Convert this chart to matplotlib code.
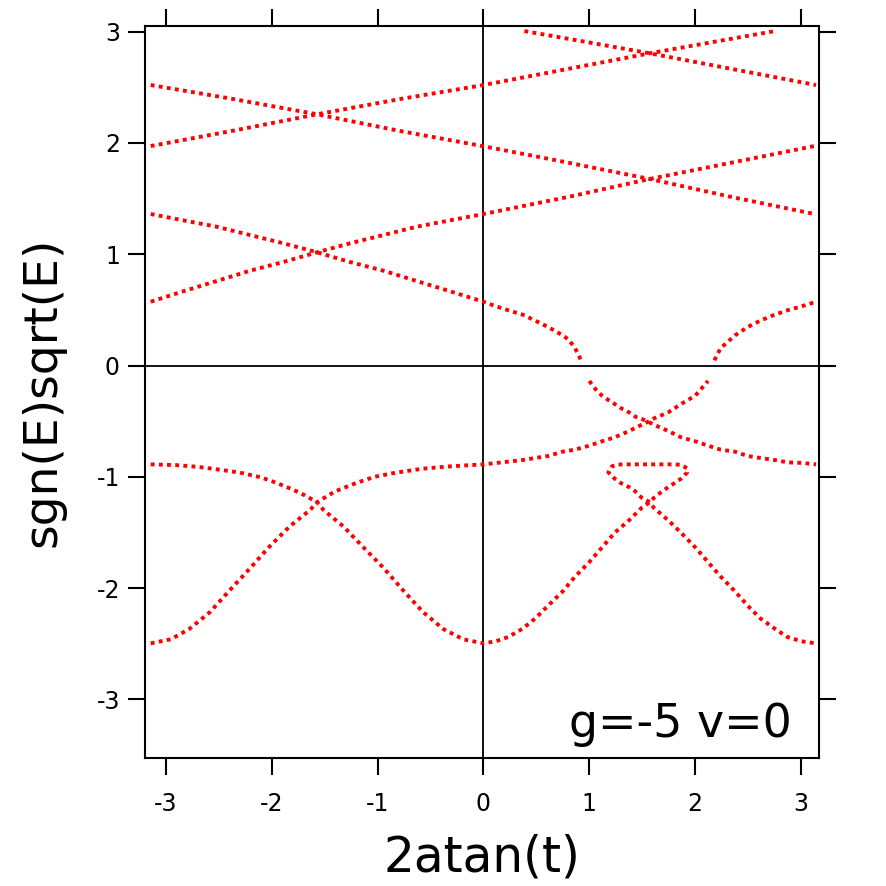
import matplotlib
matplotlib.use("Agg")
import matplotlib.pyplot as plt

# ---------------- data ----------------
# upper band 1: 2.52 -> 1.97 -> 1.36
s1_x = [-3.142, -2.362, -1.571, -0.788, 0.0, 0.755, 1.571, 2.329, 3.142]
s1_y = [2.520, 2.394, 2.257, 2.107, 1.970, 1.831, 1.676, 1.517, 1.358]
# upper band 2: 1.97 -> 2.52 -> 3.0
s2_x = [-3.142, -2.362, -1.571, -0.788, 0.0, 0.755, 1.571, 2.171, 2.754]
s2_y = [1.972, 2.110, 2.257, 2.394, 2.520, 2.657, 2.805, 2.907, 3.005]
# upper band 3 (enters from top)
s3_x = [0.387, 0.970, 1.571, 2.387, 3.142]
s3_y = [3.005, 2.907, 2.805, 2.657, 2.520]
# band 4: 1.36 -> 0.57 -> towards zero
s4_x = [-3.142, -2.834, -2.519, -2.204, -1.889, -1.571, -1.260, -0.945, -0.630,
        -0.315, 0.0, 0.119, 0.235, 0.371, 0.490, 0.610, 0.749, 0.805, 0.865, 0.922]
s4_y = [1.361, 1.304, 1.247, 1.172, 1.098, 1.017, 0.930, 0.852, 0.759,
        0.667, 0.573, 0.532, 0.496, 0.457, 0.403, 0.346, 0.271, 0.232, 0.157, 0.047]
# band 4 continued below zero
s4b_x = [1.000, 1.060, 1.120, 1.180, 1.240, 1.297, 1.375, 1.435, 1.495, 1.555, 1.611,
         1.746, 1.866, 2.001, 2.121, 2.241, 2.376, 2.496, 2.615, 2.751, 2.870, 3.005, 3.142]
s4b_y = [-0.139, -0.214, -0.271, -0.310, -0.346, -0.382, -0.421, -0.460, -0.480, -0.505, -0.532,
         -0.589, -0.645, -0.681, -0.720, -0.756, -0.774, -0.813, -0.831, -0.849, -0.870, -0.875, -0.888]
# band 5: 0.57 -> 1.36 -> 1.97
s5_x = [-3.142, -2.834, -2.519, -2.204, -1.889, -1.571, -1.260, -0.945, -0.630,
        -0.315, 0.0, 0.813, 1.571, 2.387, 3.142]
s5_y = [0.573, 0.667, 0.759, 0.852, 0.930, 1.017, 1.098, 1.172, 1.247,
        1.304, 1.361, 1.517, 1.676, 1.831, 1.975]
# band 6: -0.89 -> -2.50 -> loop -> -2.50
s6_x = [-3.142, -2.90, -2.70, -2.50, -2.30, -2.10, -1.95, -1.80, -1.70, -1.571,
        -1.51, -1.32, -1.13, -0.94, -0.75, -0.57, -0.38, -0.19, 0.0,
        0.116, 0.235, 0.371, 0.490, 0.610, 0.749, 0.865, 1.000, 1.120, 1.240,
        1.375, 1.495, 1.571, 1.611, 1.687, 1.746, 1.806, 1.866, 1.925, 1.925,
        1.866, 1.806, 1.700, 1.571, 1.450, 1.330, 1.270, 1.215, 1.180,
        1.240, 1.297, 1.375, 1.435, 1.495, 1.571, 1.611, 1.746, 1.866, 2.001,
        2.121, 2.241, 2.376, 2.496, 2.615, 2.751, 2.870, 3.005, 3.142]
s6_y = [-0.888, -0.895, -0.910, -0.935, -0.962, -1.005, -1.056, -1.115, -1.160, -1.228,
        -1.298, -1.448, -1.637, -1.822, -2.029, -2.215, -2.367, -2.460, -2.496,
        -2.478, -2.439, -2.364, -2.272, -2.158, -2.029, -1.897, -1.766, -1.634, -1.502,
        -1.391, -1.278, -1.228, -1.188, -1.131, -1.092, -1.056, -1.017, -0.960, -0.924,
        -0.893, -0.888, -0.888, -0.888, -0.888, -0.888, -0.890, -0.905, -0.960,
        -1.017, -1.056, -1.092, -1.131, -1.188, -1.228, -1.280, -1.391, -1.502, -1.634,
        -1.766, -1.897, -2.029, -2.158, -2.272, -2.364, -2.439, -2.478, -2.496]
# band 7: -2.50 -> -0.89 -> towards zero
s7_x = [-3.142, -2.953, -2.777, -2.582, -2.405, -2.204, -2.031, -1.833, -1.637, -1.571,
        -1.401, -1.203, -1.024, -0.828, -0.573, -0.315, 0.0,
        0.176, 0.371, 0.490, 0.610, 0.749, 0.865, 1.000, 1.120, 1.240, 1.375,
        1.495, 1.555, 1.611, 1.746, 1.866, 2.001, 2.121]
s7_y = [-2.496, -2.460, -2.367, -2.215, -2.029, -1.822, -1.637, -1.448, -1.298, -1.228,
        -1.131, -1.056, -0.999, -0.963, -0.927, -0.906, -0.888,
        -0.870, -0.849, -0.831, -0.813, -0.774, -0.756, -0.720, -0.681, -0.645, -0.589,
        -0.532, -0.505, -0.475, -0.421, -0.346, -0.271, -0.139]
# band 7 continued above zero
s7b_x = [2.181, 2.241, 2.376, 2.496, 2.615, 2.751, 2.870, 3.005, 3.142]
s7b_y = [0.047, 0.157, 0.271, 0.346, 0.403, 0.457, 0.496, 0.532, 0.573]

series = [(s1_x, s1_y), (s2_x, s2_y), (s3_x, s3_y), (s4_x, s4_y), (s4b_x, s4b_y),
          (s5_x, s5_y), (s6_x, s6_y), (s7_x, s7_y), (s7b_x, s7b_y)]

x_ticks = [-3, -2, -1, 0, 1, 2, 3]
y_ticks = [-3, -2, -1, 0, 1, 2, 3]
x_label = "2atan(t)"
y_label = "sgn(E)sqrt(E)"
annotation = "g=-5 v=0"

# ---------------- figure ----------------
plt.rcParams['font.family'] = ['DejaVu Sans']
fig = plt.figure(figsize=(8.86, 8.86), dpi=100)
W = H = 886.0
left, right, top, bottom = 145.0, 819.3, 25.7, 758.3
ax = fig.add_axes([left / W, 1 - bottom / H, (right - left) / W, (bottom - top) / H])
ax.set_xlim(-3.196, 3.172)
ax.set_ylim(-3.529, 3.053)

ax.axhline(0, color='black', lw=1.3, zorder=2)
ax.axvline(0, color='black', lw=1.3, zorder=2)

for xs, ys in series:
    ax.plot(xs, ys, color='#ff0000', lw=2.8, linestyle=(0, (1.0, 1.1)),
            dash_capstyle='butt', zorder=3)

for sp in ax.spines.values():
    sp.set_linewidth(1.5)
    sp.set_color('black')

ax.set_xticks(x_ticks)
ax.set_yticks(y_ticks)
ax.set_xticklabels([str(v) for v in x_ticks])
ax.set_yticklabels([str(v) for v in y_ticks])
ax.tick_params(axis='both', which='major', direction='out', length=12, width=1.5,
               labelsize=17, top=True, right=True, labeltop=False, labelright=False)
ax.tick_params(axis='x', pad=12)
ax.tick_params(axis='y', pad=6)

ax.set_xlabel(x_label, fontsize=35)
ax.xaxis.set_label_coords(0.5, -(858 - bottom) / (bottom - top))
ax.xaxis.label.set_va('center')
ax.set_ylabel(y_label, fontsize=34)
ax.yaxis.set_label_coords((43 - left) / (right - left), 0.5)
ax.yaxis.label.set_va('center')

ax.text((792 - left) / (right - left), (bottom - 737) / (bottom - top), annotation,
        transform=ax.transAxes, ha='right', va='baseline', fontsize=33)

fig.savefig("out.png", dpi=100)
